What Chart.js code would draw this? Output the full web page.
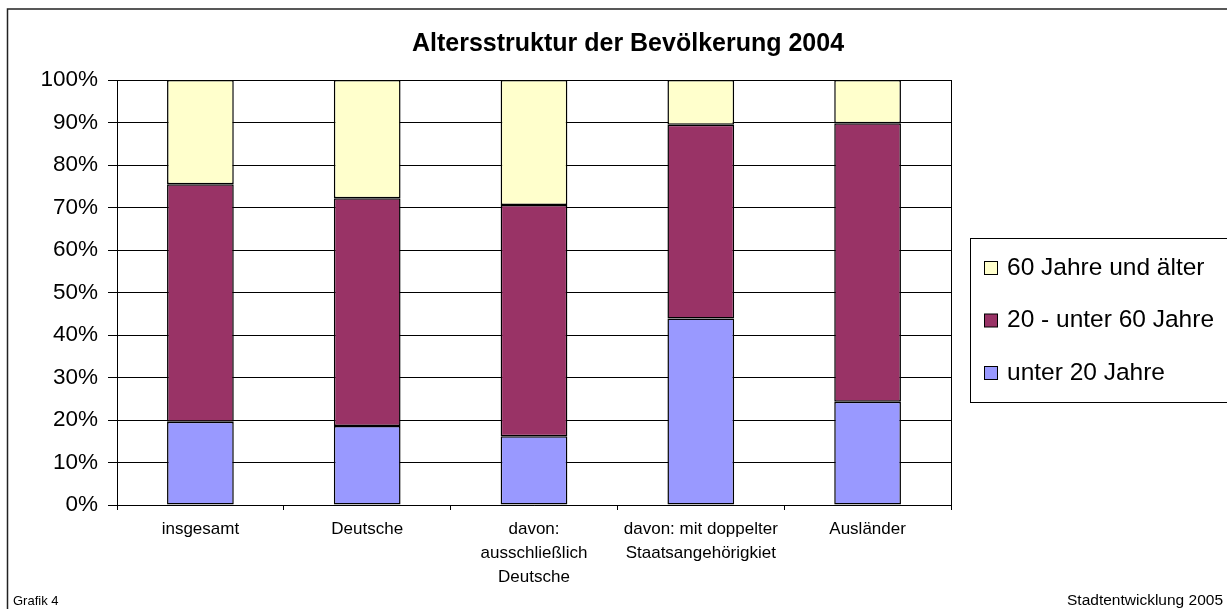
<!DOCTYPE html>
<html>
<head>
<meta charset="utf-8">
<script src="https://cdn.jsdelivr.net/npm/chart.js@4.4.0/dist/chart.umd.min.js"></script>
<style>
  html, body { margin: 0; padding: 0; background: #fff; }
  #wrap { width: 1227px; height: 609px; position: relative; }
</style>
</head>
<body>
<div id="wrap"><canvas id="chart" width="1227" height="609"></canvas></div>
<script>
const categories = [
  "insgesamt",
  "Deutsche",
  ["davon:", "ausschließlich", "Deutsche"],
  ["davon: mit doppelter", "Staatsangehörigkiet"],
  "Ausländer",
];
// percent shares per group
const under20 = [19.6, 18.6, 16.2, 43.9, 24.3];
const from20to60 = [55.9, 53.6, 54.4, 45.6, 65.5];
const over60 = [24.5, 27.8, 29.4, 10.5, 10.2];
const yTicks = [0, 10, 20, 30, 40, 50, 60, 70, 80, 90, 100];

const FONT = "'Liberation Sans', Arial, sans-serif";

// title, frame, legend and footer texts
const decorPlugin = {
  id: "decor",
  beforeDraw(chart) {
    const ctx = chart.ctx;
    ctx.save();
    ctx.fillStyle = "#fff";
    ctx.fillRect(0, 0, chart.width, chart.height);
    ctx.restore();
  },
  afterDraw(chart) {
    const ctx = chart.ctx;
    const area = chart.chartArea;
    ctx.save();

    // outer frame (top and left only visible)
    ctx.strokeStyle = "#222";
    ctx.lineWidth = 1.5;
    ctx.beginPath();
    ctx.moveTo(7.5, chart.height);
    ctx.lineTo(7.5, 9);
    ctx.lineTo(chart.width, 9);
    ctx.stroke();

    // right edge of plot
    ctx.strokeStyle = "#000";
    ctx.lineWidth = 1;
    ctx.beginPath();
    ctx.moveTo(Math.round(area.right) + 0.5, area.top);
    ctx.lineTo(Math.round(area.right) + 0.5, area.bottom);
    ctx.stroke();

    // title
    ctx.fillStyle = "#000";
    ctx.font = "bold 25px " + FONT;
    ctx.textAlign = "center";
    ctx.textBaseline = "middle";
    ctx.fillText("Altersstruktur der Bevölkerung 2004", 628, 44);

    // legend box
    ctx.strokeStyle = "#000";
    ctx.lineWidth = 1;
    ctx.strokeRect(970.5, 238.5, 280, 164);
    const items = chart.data.datasets.slice().reverse();
    ctx.font = "24.5px " + FONT;
    ctx.textAlign = "left";
    items.forEach((ds, i) => {
      const cy = 268 + i * 52.5;
      ctx.fillStyle = ds.backgroundColor;
      ctx.fillRect(984.5, cy - 6.5, 13, 13);
      ctx.strokeRect(984.5, cy - 6.5, 13, 13);
      ctx.fillStyle = "#000";
      ctx.fillText(ds.label, 1007, cy);
    });

    // footer
    ctx.font = "13px " + FONT;
    ctx.textBaseline = "alphabetic";
    ctx.fillText("Grafik 4", 13, 605);
    ctx.textAlign = "right";
    ctx.font = "15.5px " + FONT;
    ctx.fillText("Stadtentwicklung 2005", 1223, 605);

    ctx.restore();
  },
};

const ctx = document.getElementById("chart").getContext("2d");
new Chart(ctx, {
  type: "bar",
  data: {
    labels: categories,
    datasets: [
      {
        label: "unter 20 Jahre",
        data: under20,
        backgroundColor: "#9999FF",
      },
      {
        label: "20 - unter 60 Jahre",
        data: from20to60,
        backgroundColor: "#993366",
      },
      {
        label: "60 Jahre und älter",
        data: over60,
        backgroundColor: "#FFFFCC",
      },
    ],
  },
  options: {
    responsive: false,
    animation: false,
    devicePixelRatio: 1,
    datasets: {
      bar: {
        borderColor: "#000",
        borderWidth: 1.5,
        borderSkipped: false,
        categoryPercentage: 1,
        barPercentage: 0.4,
      },
    },
    layout: {
      padding: { left: 0, top: 80, right: 276, bottom: 0 },
    },
    plugins: {
      legend: { display: false },
      title: { display: false },
      tooltip: { enabled: false },
    },
    scales: {
      x: {
        stacked: true,
        grid: {
          display: true,
          drawOnChartArea: false,
          drawTicks: true,
          tickLength: 5,
          color: "#000",
        },
        border: { display: true, color: "#000", width: 1 },
        ticks: {
          color: "#000",
          font: { family: FONT, size: 17, lineHeight: 1.42 },
          padding: 7,
          maxRotation: 0,
          autoSkip: false,
        },
        afterFit(scale) {
          scale.height = 104;
        },
      },
      y: {
        stacked: true,
        min: 0,
        max: 100,
        afterBuildTicks(scale) {
          scale.ticks = yTicks.map((v) => ({ value: v }));
        },
        grid: {
          color: "#000",
          lineWidth: 1,
          drawTicks: true,
          tickLength: 9,
        },
        border: { display: true, color: "#000", width: 1 },
        ticks: {
          color: "#000",
          font: { family: FONT, size: 22.5 },
          padding: 10,
          callback: (v) => v + "%",
        },
        afterFit(scale) {
          scale.width = 117;
        },
      },
    },
  },
  plugins: [decorPlugin],
});
</script>
</body>
</html>
